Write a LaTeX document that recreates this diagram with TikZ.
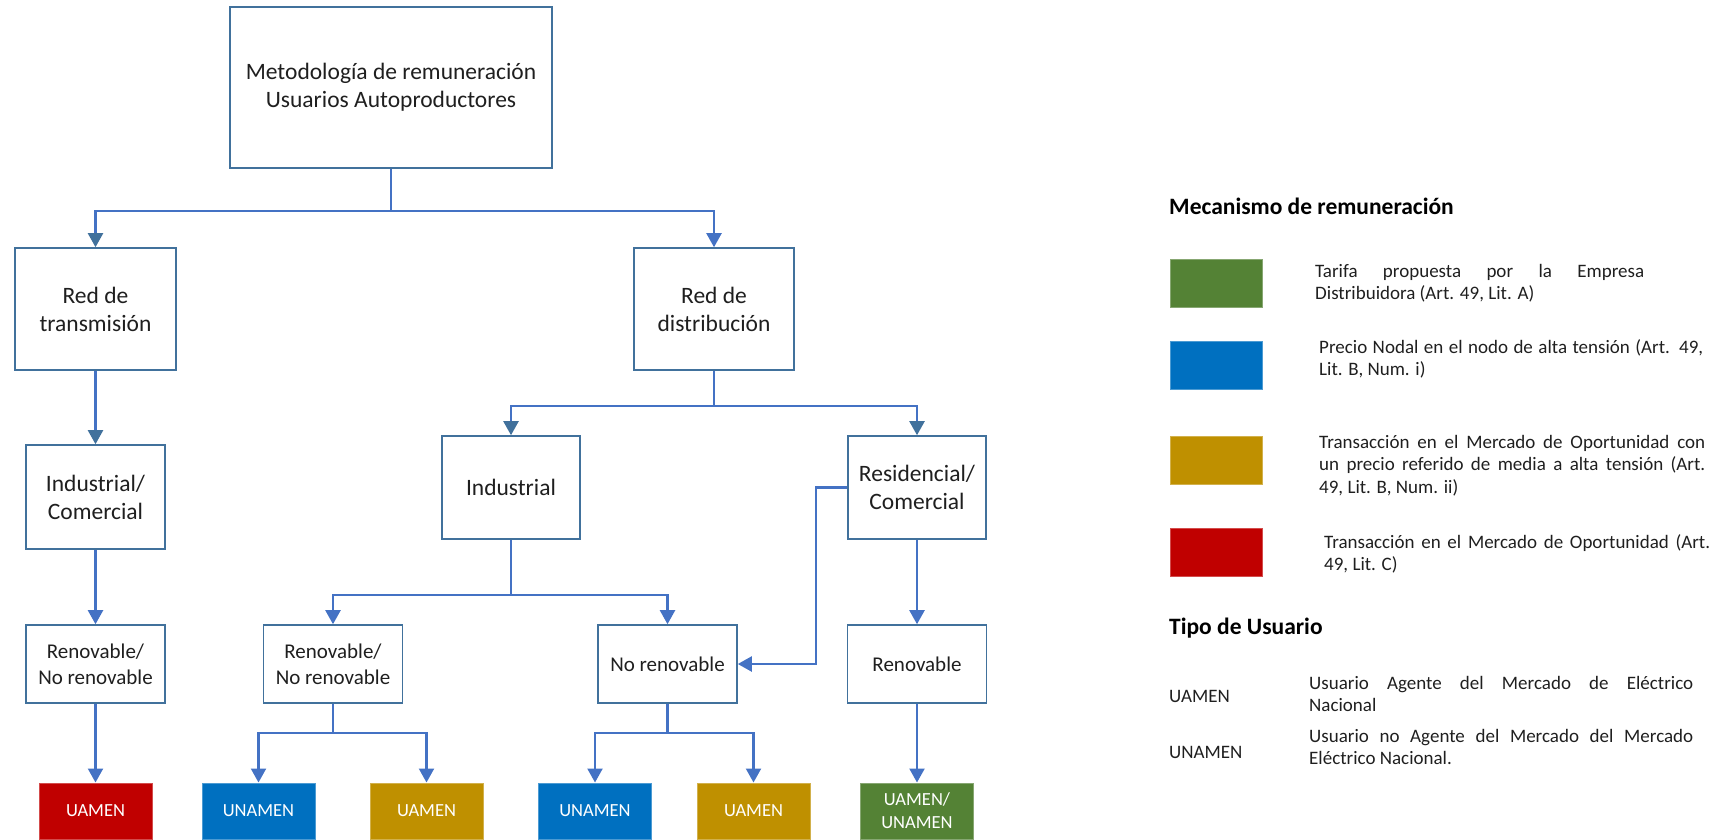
\documentclass[tikz,border=0pt]{standalone}
\usepackage{fontspec}
\setmainfont{Carlito}
\usetikzlibrary{arrows.meta}
\definecolor{boxc}{HTML}{41719C}
\definecolor{linec}{HTML}{4472C4}
\definecolor{tipdark}{HTML}{41719C}
\definecolor{cred}{HTML}{C00000}
\definecolor{cblue}{HTML}{0070C0}
\definecolor{cgold}{HTML}{BF9000}
\definecolor{cgreen}{HTML}{548235}
\definecolor{txt}{HTML}{1F1F1F}
\newcommand\jfyset{\tolerance=10000\relax\hyphenpenalty=10000\relax}
\begin{document}
\begin{tikzpicture}[x=1pt,y=-1pt,
  box/.style={draw=boxc,line width=1.6pt,fill=white,align=center,inner sep=0pt,text=txt,font=\fontsize{23.5}{28}\selectfont},
  sbox/.style={box,minimum width=139pt,minimum height=78pt,font=\fontsize{21}{26}\selectfont},
  cbox/.style={fill=#1,draw=#1!70!white,line width=1pt,minimum width=113pt,minimum height=56pt,inner sep=0pt,text=white,align=center,font=\fontsize{18.5}{23}\selectfont},
  sw/.style={fill=#1,draw=#1!70!white,line width=1pt,minimum width=92pt,minimum height=48pt,inner sep=0pt},
  conn/.style={draw=linec,line width=2.2pt,-{Triangle[length=14pt,width=15pt]}},
  conndk/.style={draw=linec,line width=2.2pt,-{Triangle[length=14pt,width=15pt,color=tipdark]}},
  ltext/.style={anchor=base west,inner sep=0pt,align=justify,text=txt,font=\fontsize{19}{22.5}\selectfont},
  lhead/.style={anchor=base west,inner sep=0pt,text=black,font=\bfseries\fontsize{23.5}{28}\selectfont},
  llab/.style={anchor=base west,inner sep=0pt,text=txt,font=\fontsize{19}{22.5}\selectfont}]
\useasboundingbox (0,0) rectangle (1718,839);

% tree nodes
\node[box,minimum width=322pt,minimum height=161pt] (top) at (391,87.5) {Metodología de remuneración\\Usuarios Autoproductores};
\node[box,minimum width=161pt,minimum height=122pt] (trans) at (95.5,309) {Red de\\transmisión};
\node[box,minimum width=160pt,minimum height=122pt] (dist) at (714,309) {Red de\\distribución};
\node[box,minimum width=139pt,minimum height=104pt] (indcom) at (95.5,497) {Industrial/\\Comercial};
\node[box,minimum width=138pt,minimum height=103pt] (ind) at (511,487.5) {Industrial};
\node[box,minimum width=138pt,minimum height=103pt] (rescom) at (917,487.5) {Residencial/\\Comercial};
\node[sbox] (ren1) at (95.5,664) {Renovable/\\No renovable};
\node[sbox] (ren2) at (333,664) {Renovable/\\No renovable};
\node[sbox] (noren) at (667.5,664) {No renovable};
\node[sbox] (ren3) at (917,664) {Renovable};

\node[cbox=cred] (u1) at (95.5,811) {UAMEN};
\node[cbox=cblue] (u2) at (258.5,811) {UNAMEN};
\node[cbox=cgold] (u3) at (426.5,811) {UAMEN};
\node[cbox=cblue] (u4) at (595,811) {UNAMEN};
\node[cbox=cgold] (u5) at (753.5,811) {UAMEN};
\node[cbox=cgreen] (u6) at (917,811) {UAMEN/\\UNAMEN};

% connectors
\draw[conndk] (top.south) -- ++(0,42) -| (trans.north);
\draw[conn] (top.south) -- ++(0,42) -| (dist.north);
\draw[conndk] (trans) -- (indcom);
\draw[conndk] (dist.south) -- ++(0,35) -| (ind.north);
\draw[conndk] (dist.south) -- ++(0,35) -| (rescom.north);
\draw[conn] (indcom) -- (ren1);
\draw[conn] (ren1) -- (u1);
\draw[conn] (ind.south) -- ++(0,55) -| (ren2.north);
\draw[conn] (ind.south) -- ++(0,55) -| (noren.north);
\draw[conn] (rescom.west) -- ++(-31,0) |- (noren.east);
\draw[conn] (rescom) -- (ren3);
\draw[conn] (ren3) -- (u6);
\draw[conn] (ren2.south) -- ++(0,29) -| (u2.north);
\draw[conn] (ren2.south) -- ++(0,29) -| (u3.north);
\draw[conn] (noren.south) -- ++(0,29) -| (u4.north);
\draw[conn] (noren.south) -- ++(0,29) -| (u5.north);

% legend
\node[lhead] (h1) at (1169,214) {Mecanismo de remuneración};
\node[sw=cgreen] (s1) at (1216,283) {};
\node[sw=cblue] (s2) at (1216,365.5) {};
\node[sw=cgold] (s3) at (1216,460.5) {};
\node[sw=cred] (s4) at (1216,552) {};
\node[ltext,text width=329pt] (t1) at (1315,277) {\jfyset Tarifa propuesta por la Empresa\linebreak Distribuidora (Art. 49, Lit. A)};
\node[ltext,text width=384pt] (t2) at (1319,353) {\jfyset Precio Nodal en el nodo de alta tensión (Art. 49,\linebreak Lit. B, Num. i)};
\node[ltext,text width=386pt] (t3) at (1319,448) {\jfyset Transacción en el Mercado de Oportunidad con\linebreak un precio referido de media a alta tensión (Art.\linebreak 49, Lit. B, Num. ii)};
\node[ltext,text width=386pt] (t4) at (1324,548) {\jfyset Transacción en el Mercado de Oportunidad (Art.\linebreak 49, Lit. C)};

\node[lhead] (h2) at (1169,634) {Tipo de Usuario};
\node[llab] (l1) at (1169,702) {UAMEN};
\node[llab] (l2) at (1169,758) {UNAMEN};
\node[ltext,text width=384pt] (d1) at (1309,689) {\jfyset Usuario Agente del Mercado de Eléctrico\linebreak Nacional};
\node[ltext,text width=384pt] (d2) at (1309,742) {\jfyset Usuario no Agente del Mercado del Mercado\linebreak Eléctrico Nacional.};
\end{tikzpicture}
\end{document}
